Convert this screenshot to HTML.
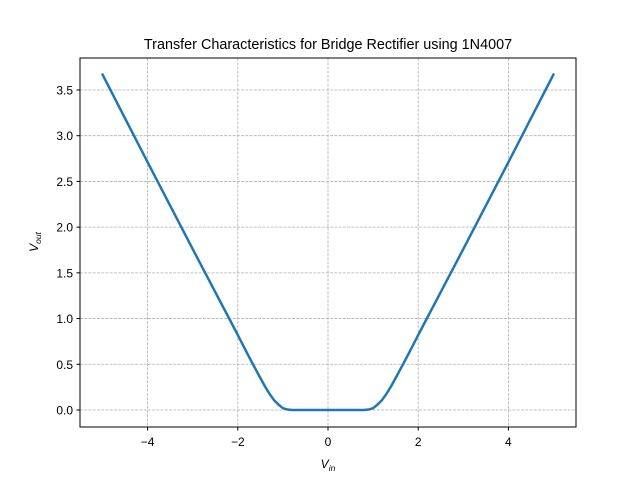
<!DOCTYPE html>
<html><head><meta charset="utf-8"><style>body{margin:0;background:#fff}svg{display:block;font-family:"Liberation Sans","DejaVu Sans",sans-serif}</style></head>
<body>
<svg id="chart" width="640" height="480" viewBox="0 0 640 480">
<rect width="640" height="480" fill="#fff"/>
<g id="grid"></g><g id="ticks"></g><g id="plot"></g>
<rect x="80" y="58" width="496" height="369" fill="none" stroke="#000" stroke-width="1"/>
<text x="328" y="49" text-anchor="middle" font-size="14.4">Transfer Characteristics for Bridge Rectifier using 1N4007</text>
<text x="328" y="468" text-anchor="middle" font-size="12" font-style="italic">V<tspan font-size="8.5" dy="3">in</tspan></text>
<text transform="translate(38,242) rotate(-90)" text-anchor="middle" font-size="12" font-style="italic">V<tspan font-size="8.5" dy="3">out</tspan></text>
</svg>
<script>
const xTicks=[-4,-2,0,2,4];
const xTickLabels=["−4","−2","0","2","4"];
const yTicks=[0,0.5,1,1.5,2,2.5,3,3.5];
const yTickLabels=["0.0","0.5","1.0","1.5","2.0","2.5","3.0","3.5"];
const vin=[-5,-4,-3,-2.5,-2.18,-2,-1.75,-1.62,-1.5,-1.4,-1.3,-1.2,-1.1,-1,-0.9,-0.8,0,0.8,0.9,1,1.1,1.2,1.3,1.4,1.5,1.62,1.75,2,2.18,2.5,3,4,5];
const vout=[3.67,2.71,1.76,1.29,0.99,0.82,0.58,0.46,0.35,0.26,0.18,0.11,0.06,0.02,0.005,0,0,0,0.005,0.02,0.06,0.11,0.18,0.26,0.35,0.46,0.58,0.82,0.99,1.29,1.76,2.71,3.67];
const NS="http://www.w3.org/2000/svg";
const X=v=>328+v*45.1, Y=v=>410-v*91.43;
function mk(t,a,p){const e=document.createElementNS(NS,t);for(const k in a)e.setAttribute(k,a[k]);p.appendChild(e);return e;}
const g=document.getElementById('grid'),tk=document.getElementById('ticks'),pl=document.getElementById('plot');
xTicks.forEach((v,i)=>{
 const l=mk('line',{x1:X(v),x2:X(v),y1:58,y2:427,stroke:'#b0b0b0','stroke-width':0.8,'stroke-dasharray':'2.96,1.28'},g);
 
 
 mk('line',{x1:X(v),x2:X(v),y1:427,y2:430.5,stroke:'#000'},tk);
 const t=mk('text',{x:X(v),y:446,'text-anchor':'middle','font-size':12},tk);t.textContent=xTickLabels[i];
 
 
});
yTicks.forEach((v,i)=>{
 const l=mk('line',{x1:80,x2:576,y1:Y(v),y2:Y(v),stroke:'#b0b0b0','stroke-width':0.8,'stroke-dasharray':'2.96,1.28'},g);
 
 
 mk('line',{x1:76.5,x2:80,y1:Y(v),y2:Y(v),stroke:'#000'},tk);
 const t=mk('text',{x:73,y:Y(v)+4.5,'text-anchor':'end','font-size':12},tk);t.textContent=yTickLabels[i];
 
 
});
const path=mk('path',{d:vin.map((v,i)=>(i?'L':'M')+X(v)+','+Y(vout[i])).join(''),fill:'none',stroke:'#1f77b4','stroke-width':2.5,'stroke-linejoin':'round','stroke-linecap':'round'},pl);


</script>
</body></html>
